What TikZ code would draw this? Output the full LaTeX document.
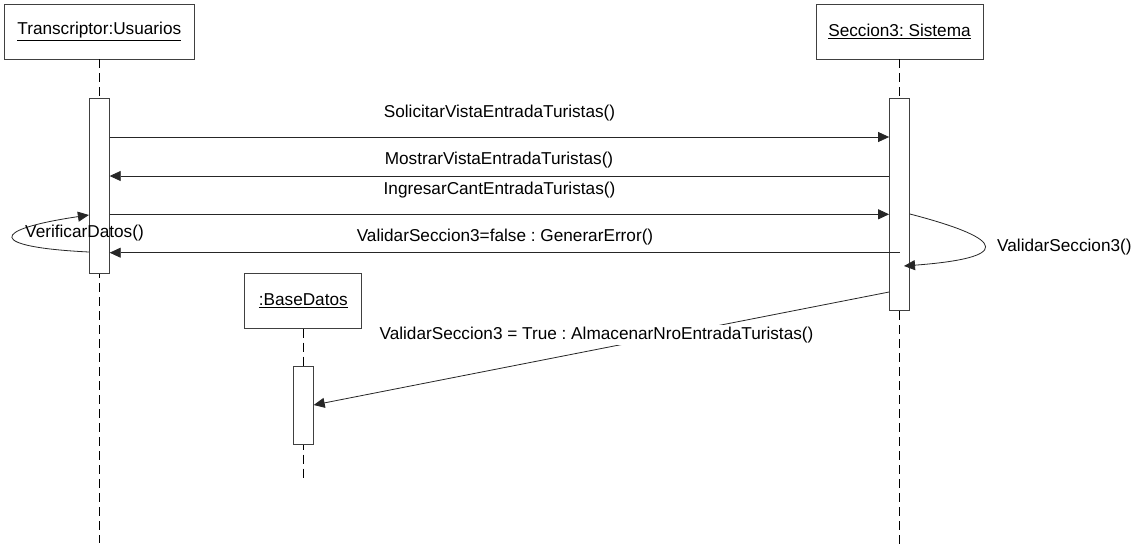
\documentclass[tikz,border=0pt]{standalone}
\usepackage{fontspec}
\setmainfont{Liberation Sans}
\usetikzlibrary{arrows.meta}
\frenchspacing
\begin{document}
\begin{tikzpicture}[x=1pt,y=-1pt,
  font=\fontsize{17.2}{20}\selectfont,
  obj/.style={draw=black!75, line width=0.8pt, minimum height=55pt, inner sep=0pt, fill=white},
  act/.style={draw=black!75, line width=0.8pt, minimum width=20pt, inner sep=0pt, fill=white},
  life/.style={draw=black, line width=0.8pt, dash pattern=on 9pt off 5pt},
  msg/.style={draw=black!85, line width=0.8pt, -{Triangle[length=11pt,width=10pt]}},
  lbl/.style={inner sep=1pt}
]
\useasboundingbox[fill=white] (0,0) rectangle (1135,552);

% objects
\node[obj, minimum width=190pt] (tu) at (99.3,31.5) {\underline{Transcriptor:Usuarios}};
\node[obj, minimum width=167pt] (ss) at (899.5,31.5) {\underline{Seccion3: Sistema}};
\node[obj, minimum width=117pt] (bd) at (303.3,300.8) {\underline{:BaseDatos}};

% lifelines
\coordinate (tuEnd) at (99.3,543);
\coordinate (ssEnd) at (899.5,548);
\coordinate (bdEnd) at (303.3,478);
\draw[life] (tu.south) -- (tuEnd);
\draw[life] (ss.south) -- (ssEnd);
\draw[life] (bd.south) -- (bdEnd);

% activations
\node[act, minimum height=174.7pt] (actL) at (99.3,185.7) {};
\node[act, minimum height=211.7pt] (actR) at (899.5,204.2) {};
\node[act, minimum height=77.3pt] (actB) at (303.3,405.3) {};

% message levels
\coordinate (y1) at (0,137);
\coordinate (y2) at (0,176);
\coordinate (y3) at (0,214.3);
\coordinate (y4) at (0,252.7);
\coordinate (rl1) at (0,214);
\coordinate (rl2) at (904,266);
\coordinate (ll1) at (0,252);
\coordinate (ll2) at (0,215);
\coordinate (y5) at (0,292);
\coordinate (y6) at (0,405);

% messages
\draw[msg] (actL.east |- y1) -- (actR.west |- y1);
\node[lbl] (l1) at (499.5,113) {SolicitarVistaEntradaTuristas()};

\draw[msg] (actR.west |- y2) -- (actL.east |- y2);
\node[lbl] (l2) at (499,160) {MostrarVistaEntradaTuristas()};

\draw[msg] (actL.east |- y3) -- (actR.west |- y3);
\node[lbl] (l3) at (499.5,190) {IngresarCantEntradaTuristas()};

\draw[msg] (actR.center |- y4) -- (actL.east |- y4);
\node[lbl] (l4) at (505,237) {ValidarSeccion3=false : GenerarError()};

% self loops
\draw[msg] (actR.east |- rl1) .. controls (1010,240) and (1010,258) .. (rl2);
\node[lbl] (l5) at (1064.4,247) {ValidarSeccion3()};

\draw[msg] (actL.west |- ll1) .. controls (-12,247) and (-12,230) .. (actL.west |- ll2);
\node[lbl] (l6) at (84.5,233) {VerificarDatos()};

% store message
\draw[msg] (actR.west |- y5) -- (actB.east |- y6);
\node[lbl, fill=white, inner sep=2pt] (l7) at (596.5,335) {ValidarSeccion3 = True : AlmacenarNroEntradaTuristas()};
\end{tikzpicture}
\end{document}
